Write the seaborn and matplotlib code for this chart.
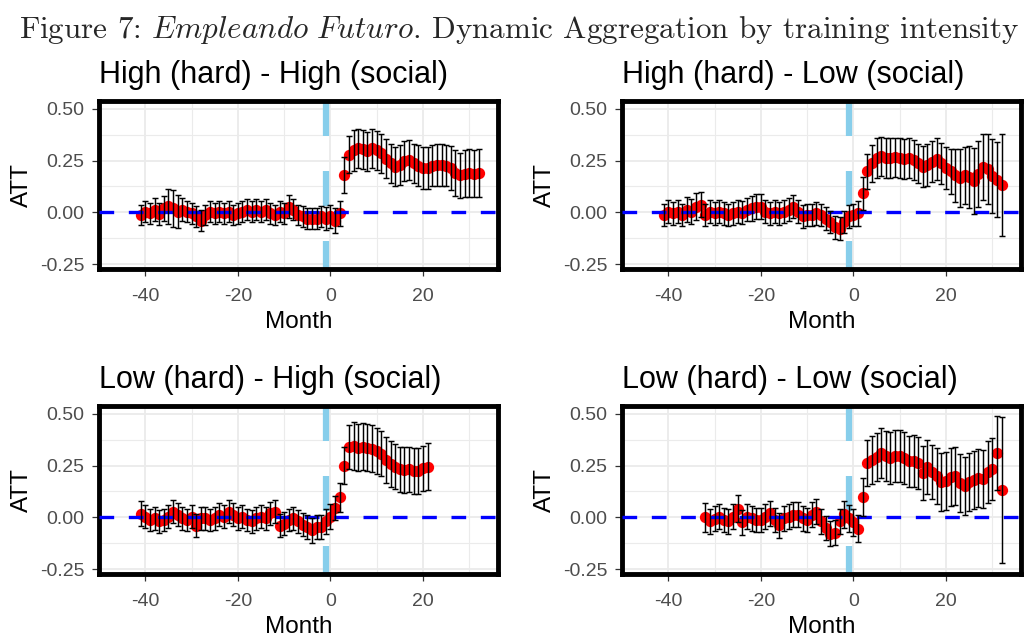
import numpy as np
import pandas as pd
import matplotlib
matplotlib.use("Agg")
import matplotlib.pyplot as plt
import seaborn as sns

# ---------------- data ----------------
titles = ["High (hard) - High (social)", "High (hard) - Low (social)",
          "Low (hard) - High (social)", "Low (hard) - Low (social)"]

months_hh = list(range(-41, 33))
att_hh = [-0.013, 0.003, -0.005, 0.012, -0.008, 0.020, 0.030, 0.020, 0.003, 0.012,
          0.003, -0.005, -0.020, -0.040, -0.013, 0.003, -0.005, 0.003, -0.005, 0.003,
          -0.013, -0.005, 0.003, 0.012, 0.003, 0.012, 0.003, 0.012, -0.005, -0.013,
          0.003, -0.005, 0.028, 0.012, -0.013, -0.020, -0.030, -0.030, -0.030, -0.020,
          -0.030, -0.020, -0.040, -0.005,
          0.178, 0.278, 0.300, 0.310, 0.305, 0.295, 0.310, 0.300, 0.285, 0.260,
          0.237, 0.220, 0.228, 0.248, 0.253, 0.237, 0.225, 0.215, 0.215, 0.225,
          0.228, 0.228, 0.225, 0.215, 0.190, 0.178, 0.187, 0.190, 0.187, 0.190]
err_hh = [0.050, 0.050, 0.050, 0.055, 0.055, 0.060, 0.085, 0.090, 0.080, 0.055,
          0.050, 0.050, 0.050, 0.050, 0.050, 0.050, 0.050, 0.050, 0.050, 0.050,
          0.050, 0.050, 0.050, 0.050, 0.050, 0.050, 0.050, 0.050, 0.050, 0.050,
          0.050, 0.050, 0.055, 0.050, 0.050, 0.050, 0.050, 0.050, 0.050, 0.050,
          0.055, 0.055, 0.060, 0.060,
          0.087, 0.090, 0.100, 0.095, 0.095, 0.095, 0.095, 0.095, 0.095, 0.095,
          0.095, 0.095, 0.095, 0.095, 0.095, 0.095, 0.100, 0.100, 0.100, 0.100,
          0.100, 0.100, 0.100, 0.105, 0.110, 0.110, 0.115, 0.115, 0.115, 0.115]

months_hl = list(range(-41, 33))
att_hl = [-0.013, 0.003, -0.005, 0.003, -0.013, 0.012, 0.003, 0.028, 0.037, -0.013,
          0.003, -0.005, 0.003, -0.005, -0.013, -0.005, 0.003, -0.002, 0.012, 0.020,
          0.028, 0.028, 0.003, -0.005, 0.003, -0.005, 0.003, 0.012, 0.028, 0.003,
          -0.020, -0.013, -0.013, -0.005, -0.013, -0.030, -0.047, -0.072, -0.080, -0.047,
          -0.020, -0.013, -0.005, 0.092,
          0.198, 0.237, 0.262, 0.270, 0.262, 0.262, 0.265, 0.262, 0.258, 0.262,
          0.253, 0.237, 0.220, 0.228, 0.245, 0.258, 0.237, 0.215, 0.198, 0.178,
          0.165, 0.178, 0.170, 0.153, 0.187, 0.220, 0.208, 0.175, 0.158, 0.132]
err_hl = [0.055, 0.055, 0.055, 0.055, 0.055, 0.060, 0.060, 0.065, 0.060, 0.055,
          0.055, 0.055, 0.055, 0.055, 0.055, 0.055, 0.055, 0.055, 0.055, 0.060,
          0.060, 0.060, 0.055, 0.055, 0.055, 0.055, 0.055, 0.055, 0.055, 0.055,
          0.055, 0.055, 0.055, 0.055, 0.055, 0.055, 0.055, 0.055, 0.055, 0.055,
          0.055, 0.055, 0.060, 0.080,
          0.085, 0.090, 0.095, 0.095, 0.095, 0.095, 0.095, 0.095, 0.095, 0.095,
          0.095, 0.095, 0.100, 0.100, 0.100, 0.100, 0.100, 0.100, 0.110, 0.130,
          0.140, 0.140, 0.150, 0.160, 0.160, 0.160, 0.170, 0.180, 0.180, 0.245]

months_lh = list(range(-41, 22))
att_lh = [0.017, 0.003, -0.013, -0.005, -0.020, -0.013, 0.003, 0.028, 0.012, -0.005,
          -0.013, 0.003, -0.040, -0.005, -0.005, -0.013, -0.005, 0.012, 0.003, 0.028,
          0.012, -0.005, 0.003, -0.013, -0.020, -0.005, 0.003, -0.005, 0.020, 0.028,
          -0.040, -0.030, -0.013, -0.005, -0.020, -0.035, -0.047, -0.063, -0.047, -0.047,
          -0.020, 0.003, 0.045, 0.098,
          0.250, 0.340, 0.345, 0.337, 0.342, 0.337, 0.332, 0.320, 0.308, 0.278,
          0.258, 0.245, 0.232, 0.228, 0.232, 0.225, 0.225, 0.237, 0.245]
err_lh = [0.060, 0.055, 0.055, 0.055, 0.055, 0.055, 0.055, 0.055, 0.055, 0.055,
          0.055, 0.055, 0.055, 0.055, 0.055, 0.055, 0.055, 0.055, 0.055, 0.055,
          0.055, 0.055, 0.055, 0.055, 0.055, 0.055, 0.055, 0.055, 0.055, 0.055,
          0.055, 0.055, 0.055, 0.055, 0.055, 0.055, 0.060, 0.060, 0.060, 0.060,
          0.060, 0.060, 0.060, 0.070,
          0.090, 0.105, 0.115, 0.115, 0.115, 0.115, 0.115, 0.110, 0.110, 0.110,
          0.110, 0.110, 0.110, 0.110, 0.110, 0.110, 0.110, 0.110, 0.115]

months_ll = list(range(-32, 33))
att_ll = [0.000, -0.020, -0.007, 0.003, -0.013, -0.020, 0.003, 0.042, -0.025, 0.003,
          -0.005, -0.013, -0.013, 0.003, 0.020, -0.013, -0.038, -0.005, 0.003, 0.012,
          0.012, -0.005, -0.013, 0.012, 0.028, -0.020, -0.052, -0.080, -0.075, -0.020,
          0.015, -0.005, -0.025, -0.055, 0.098,
          0.262, 0.278, 0.292, 0.312, 0.295, 0.287, 0.295, 0.298, 0.287, 0.270,
          0.273, 0.262, 0.215, 0.242, 0.220, 0.198, 0.170, 0.175, 0.195, 0.198,
          0.165, 0.153, 0.170, 0.182, 0.192, 0.187, 0.220, 0.232, 0.312, 0.132]
err_ll = [0.070, 0.060, 0.060, 0.060, 0.060, 0.060, 0.060, 0.065, 0.060, 0.060,
          0.060, 0.060, 0.060, 0.060, 0.060, 0.060, 0.060, 0.060, 0.060, 0.060,
          0.060, 0.060, 0.060, 0.060, 0.060, 0.060, 0.060, 0.060, 0.060, 0.060,
          0.065, 0.065, 0.065, 0.065, 0.090,
          0.110, 0.115, 0.115, 0.120, 0.120, 0.125, 0.125, 0.125, 0.125, 0.125,
          0.125, 0.125, 0.130, 0.130, 0.130, 0.135, 0.140, 0.140, 0.140, 0.140,
          0.140, 0.140, 0.140, 0.140, 0.140, 0.140, 0.150, 0.150, 0.180, 0.355]

panels = [(months_hh, att_hh, err_hh), (months_hl, att_hl, err_hl),
          (months_lh, att_lh, err_lh), (months_ll, att_ll, err_ll)]

x_ticks = [-40, -20, 0, 20]
y_ticks = [-0.25, 0.00, 0.25, 0.50]
ref_month = -1

# ---------------- style ----------------
sns.set_theme(style="white")
plt.rcParams["font.family"] = ["Liberation Sans", "DejaVu Sans"]
plt.rcParams["axes.unicode_minus"] = False
plt.rcParams["mathtext.fontset"] = "cm"

fig = plt.figure(figsize=(10.24, 6.4), dpi=100)
fig.patch.set_facecolor("white")

W, H = 1024.0, 640.0
rects = [(99, 101, 399, 168), (622, 101, 399, 168),
         (99, 406, 399, 168), (622, 406, 399, 168)]

for (lx, ty, w, h), title, (mo, att, err) in zip(rects, titles, panels):
    ax = fig.add_axes([lx / W, 1 - (ty + h) / H, w / W, h / H])
    df = pd.DataFrame({"month": mo, "att": att, "err": err})

    ax.set_xlim(-48.5, 36.2)
    ax.set_ylim(-0.274, 0.538)
    ax.set_xticks(x_ticks)
    ax.set_yticks(y_ticks)
    ax.set_xticks([-50, -30, -10, 10, 30], minor=True)
    ax.set_yticks([-0.125, 0.125, 0.375], minor=True)
    ax.grid(True, which="major", color="#EBEBEB", linewidth=1.3, zorder=0)
    ax.grid(True, which="minor", color="#EBEBEB", linewidth=0.8, zorder=0)
    ax.set_axisbelow(True)

    ax.axvline(ref_month, ymin=1, ymax=0, color="#87CEEB", linewidth=4.5,
               linestyle=(0, (5.6, 5.6)), zorder=1)

    sns.scatterplot(data=df, x="month", y="att", color="#FF0000", s=66,
                    linewidth=0, ax=ax, zorder=2, legend=False)
    ax.axhline(0, color="#0000FF", linewidth=2.4, linestyle=(0, (4.4, 4.4)),
               zorder=3)
    ax.errorbar(df["month"], df["att"], yerr=df["err"], fmt="none",
                ecolor="black", elinewidth=1.05, capsize=2.4, capthick=1.05,
                zorder=4)

    ax.yaxis.set_major_formatter(matplotlib.ticker.FormatStrFormatter("%.2f"))
    ax.tick_params(axis="both", which="major", direction="out", length=5,
                   width=0.9, color="#333333", labelcolor="#4D4D4D",
                   labelsize=14, bottom=True, left=True)
    ax.tick_params(axis="x", which="major", pad=9)
    ax.tick_params(axis="y", which="major", pad=5.5)
    ax.tick_params(axis="both", which="minor", length=0)
    for sp in ax.spines.values():
        sp.set_visible(True)
        sp.set_color("black")
        sp.set_linewidth(3.5)

    ax.set_xlabel("Month", fontsize=17.5, color="black", labelpad=4)
    ax.set_ylabel("ATT", fontsize=17.5, color="black", labelpad=5)
    ax.set_title(title, loc="left", fontsize=22, color="black", pad=13)

fig.text(0.507, 1 - 38 / H,
         r"Figure 7: $\mathit{Empleando\ Futuro}$. Dynamic Aggregation by training intensity",
         ha="center", va="baseline", fontsize=22.4, family="cmr10")

fig.savefig("out.png", dpi=100, facecolor="white")
